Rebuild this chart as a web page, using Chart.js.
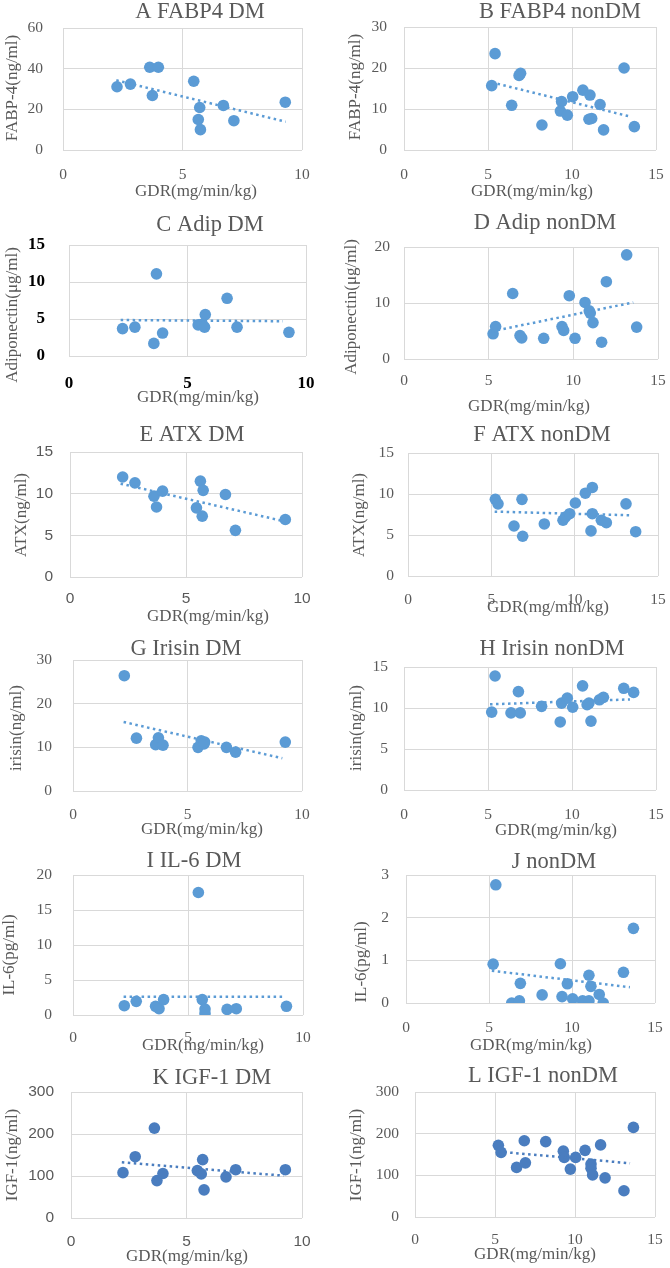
<!DOCTYPE html>
<html>
<head>
<meta charset="utf-8">
<script src="https://cdn.jsdelivr.net/npm/chart.js@4/dist/chart.umd.min.js"></script>
<style>
html, body { margin: 0; padding: 0; background: #fff; width: 670px; height: 1268px; overflow: hidden; position: relative; }
canvas { position: absolute; }
</style>
</head>
<body>
<script>
// --- data ---
// A FABP4 DM
const gdrA = [2.26, 2.82, 3.63, 3.99, 3.74, 5.47, 5.72, 5.66, 5.75, 6.71, 7.15, 9.30];
const fabp4DM = [31.1, 32.4, 40.7, 40.7, 26.8, 33.8, 20.9, 15.0, 10.0, 21.9, 14.4, 23.5];
const trendXA = [2.23, 9.32];
const trendYA = [34.3, 13.9];

// B FABP4 nonDM
const gdrB = [5.42, 5.22, 6.41, 6.85, 6.94, 8.21, 9.38, 9.31, 9.72, 10.04, 10.65, 11.07, 11.01, 11.17, 11.67, 11.88, 13.10, 13.71];
const fabp4Non = [23.5, 15.7, 10.9, 18.2, 18.7, 6.1, 11.8, 9.5, 8.5, 13.0, 14.6, 13.4, 7.5, 7.7, 11.1, 4.9, 20.0, 5.7];
const trendXB = [5.22, 13.51];
const trendYB = [16.5, 8.1];

// C Adip DM
const gdrC = [2.26, 2.78, 3.69, 3.58, 3.95, 5.45, 5.62, 5.72, 5.75, 6.67, 7.09, 9.28];
const adipDM = [3.7, 3.9, 11.1, 1.7, 3.1, 4.2, 4.3, 3.9, 5.6, 7.8, 3.9, 3.2];
const trendXC = [2.18, 9.03];
const trendYC = [4.86, 4.7];

// D Adip nonDM
const gdrD = [5.26, 5.41, 6.42, 6.85, 6.95, 8.25, 9.76, 9.33, 9.43, 10.1, 10.69, 10.94, 11.0, 11.16, 11.67, 11.95, 13.15, 13.74];
const adipNon = [4.5, 5.8, 11.7, 4.2, 3.75, 3.7, 11.3, 5.8, 5.1, 3.7, 10.1, 8.6, 8.2, 6.5, 3.0, 13.8, 18.6, 5.7];
const trendXD = [5.18, 13.54];
const trendYD = [4.94, 10.1];

// E ATX DM
const gdrE = [2.27, 2.80, 3.62, 3.73, 3.99, 5.45, 5.62, 5.74, 5.70, 6.70, 7.13, 9.28];
const atxDM = [12.0, 11.3, 9.7, 8.4, 10.3, 8.3, 11.5, 10.4, 7.3, 9.9, 5.6, 6.9];
const trendXE = [2.18, 9.21];
const trendYE = [11.2, 6.7];

// F ATX nonDM
const gdrF = [5.24, 5.40, 6.36, 6.84, 6.88, 8.18, 9.30, 9.45, 9.70, 10.04, 10.64, 11.06, 11.06, 10.98, 11.60, 11.90, 13.08, 13.66];
const atxNon = [9.35, 8.8, 6.1, 9.35, 4.85, 6.35, 6.8, 7.2, 7.6, 8.9, 10.1, 10.8, 7.6, 5.5, 6.8, 6.5, 8.8, 5.4];
const trendXF = [5.2, 13.44];
const trendYF = [7.85, 7.4];

// G Irisin DM
const gdrG = [2.24, 2.77, 3.61, 3.73, 3.93, 5.46, 5.60, 5.72, 5.75, 6.70, 7.10, 9.27];
const irisinDM = [26.4, 12.1, 10.6, 12.2, 10.5, 10.0, 11.5, 10.8, 11.2, 10.0, 8.9, 11.2];
const trendXG = [2.21, 9.14];
const trendYG = [15.8, 7.5];

// H Irisin nonDM
const gdrH = [5.42, 5.22, 6.37, 6.92, 6.81, 8.19, 9.30, 9.38, 9.72, 10.04, 10.63, 11.01, 10.90, 11.13, 11.63, 11.87, 13.08, 13.67];
const irisinNon = [13.9, 9.5, 9.4, 9.4, 12.0, 10.2, 8.3, 10.6, 11.2, 10.1, 12.7, 10.6, 10.4, 8.4, 11.0, 11.3, 12.4, 11.9];
const trendXH = [5.12, 13.45];
const trendYH = [10.45, 11.05];

// I IL-6 DM
const gdrI = [2.23, 2.75, 3.59, 3.74, 3.94, 5.45, 5.62, 5.74, 5.74, 6.70, 7.10, 9.28];
const il6DM = [1.33, 1.95, 1.24, 0.9, 2.2, 17.5, 2.2, 0.86, 0.24, 0.8, 0.9, 1.24];
const trendXI = [2.2, 9.16];
const trendYI = [2.62, 2.62];

// J nonDM (IL-6)
const gdrJ = [5.41, 5.25, 6.37, 6.83, 6.89, 8.20, 9.30, 9.40, 9.72, 10.04, 10.64, 11.02, 11.02, 11.14, 11.64, 11.88, 13.10, 13.70];
const il6Non = [2.77, 0.91, 0.0, 0.05, 0.46, 0.19, 0.92, 0.15, 0.45, 0.1, 0.05, 0.05, 0.65, 0.39, 0.2, 0.0, 0.72, 1.75];
const trendXJ = [5.17, 13.49];
const trendYJ = [0.756, 0.37];

// K IGF-1 DM
const gdrK = [2.25, 2.78, 3.61, 3.72, 3.98, 5.47, 5.64, 5.70, 5.76, 6.71, 7.13, 9.28];
const igf1DM = [108, 146, 214, 89, 106, 113, 105, 139, 67, 98, 115, 115];
const trendXK = [2.2, 9.2];
const trendYK = [132.5, 100.8];

// L IGF-1 nonDM
const gdrL = [5.21, 5.38, 6.35, 6.83, 6.90, 8.17, 9.27, 9.33, 9.71, 10.04, 10.63, 11.0, 11.0, 11.1, 11.6, 11.88, 13.06, 13.65];
const igf1Non = [172, 155, 119, 183, 130, 181, 158, 143, 115, 143, 160, 127, 117, 101, 173, 94, 63, 215];
const trendXL = [5.2, 13.44];
const trendYL = [157, 129];

const xTitle = 'GDR(mg/min/kg)';

// --- layout (page coordinates) ---
const CELL_W = 335, CELL_H = 218;
const SERIF = '"Liberation Serif", "DejaVu Serif", serif';
const SANS = '"Liberation Sans", Arial, sans-serif';
const GRAY = '#595959';
const BLUE = '#5B9BD5';
const DARK_BLUE = '#4A7DBF';

const panels = [
    { title: 'A FABP4 DM', yTitle: 'FABP-4(ng/ml)', xs: gdrA, ys: fabp4DM, tx: trendXA, ty: trendYA, xMax: 10, yMax: 60, yStep: 20,
      cell: [0, 0], plot: [63, 28, 302, 150], tPos: [200, 12], yPos: [13, 88], xPos: [196, 192], padY: 20, padX: 16 },
    { title: 'B FABP4 nonDM', yTitle: 'FABP-4(ng/ml)', xs: gdrB, ys: fabp4Non, tx: trendXB, ty: trendYB, xMax: 15, yMax: 30, yStep: 10,
      cell: [335, 0], plot: [404, 27, 656, 150], tPos: [560, 12], yPos: [356, 87], xPos: [532, 192], padY: 17, padX: 16 },
    { title: 'C Adip DM', yTitle: 'Adiponectin(μg/ml)', xs: gdrC, ys: adipDM, tx: trendXC, ty: trendYC, xMax: 10, yMax: 15, yStep: 5,
      cell: [0, 203], plot: [69, 245, 306, 356], tPos: [210, 225], yPos: [13, 315], xPos: [198, 398], padY: 24, padX: 17, bold: true },
    { title: 'D Adip nonDM', yTitle: 'Adiponectin(μg/ml)', xs: gdrD, ys: adipNon, tx: trendXD, ty: trendYD, xMax: 15, yMax: 20, yStep: 10,
      cell: [335, 203], plot: [404, 247, 658, 359], tPos: [545, 223], yPos: [352, 307], xPos: [529, 407], padY: 14, padX: 13 },
    { title: 'E ATX DM', yTitle: 'ATX(ng/ml)', xs: gdrE, ys: atxDM, tx: trendXE, ty: trendYE, xMax: 10, yMax: 15, yStep: 5,
      cell: [0, 413], plot: [70, 452, 302, 577], tPos: [192, 435], yPos: [22, 515], xPos: [208, 617], padY: 17, padX: 12, sans: true },
    { title: 'F ATX nonDM', yTitle: 'ATX(ng/ml)', xs: gdrF, ys: atxNon, tx: trendXF, ty: trendYF, xMax: 15, yMax: 15, yStep: 5,
      cell: [335, 413], plot: [408, 453, 658, 576], tPos: [542, 435], yPos: [360, 515], xPos: [548, 608], padY: 14, padX: 15 },
    { title: 'G Irisin DM', yTitle: 'irisin(ng/ml)', xs: gdrG, ys: irisinDM, tx: trendXG, ty: trendYG, xMax: 10, yMax: 30, yStep: 10,
      cell: [0, 623], plot: [73, 660, 302, 791], tPos: [186, 649], yPos: [17, 728], xPos: [202, 830], padY: 21, padX: 15 },
    { title: 'H Irisin nonDM', yTitle: 'irisin(ng/ml)', xs: gdrH, ys: irisinNon, tx: trendXH, ty: trendYH, xMax: 15, yMax: 15, yStep: 5,
      cell: [335, 623], plot: [404, 667, 656, 790], tPos: [552, 649], yPos: [357, 728], xPos: [556, 831], padY: 16, padX: 16 },
    { title: 'I IL-6 DM', yTitle: 'IL-6(pg/ml)', xs: gdrI, ys: il6DM, tx: trendXI, ty: trendYI, xMax: 10, yMax: 20, yStep: 5,
      cell: [0, 836], plot: [73, 875, 303, 1015], tPos: [194, 861], yPos: [10, 955], xPos: [203, 1046], padY: 21, padX: 14 },
    { title: 'J nonDM', yTitle: 'IL-6(pg/ml)', xs: gdrJ, ys: il6Non, tx: trendXJ, ty: trendYJ, xMax: 15, yMax: 3, yStep: 1,
      cell: [335, 836], plot: [406, 875, 655, 1003], tPos: [554, 862], yPos: [362, 962], xPos: [531, 1046], padY: 17, padX: 16 },
    { title: 'K IGF-1 DM', yTitle: 'IGF-1(ng/ml)', xs: gdrK, ys: igf1DM, tx: trendXK, ty: trendYK, xMax: 10, yMax: 300, yStep: 100,
      cell: [0, 1050], plot: [71, 1092, 302, 1218], tPos: [212, 1078], yPos: [13, 1155], xPos: [187, 1257], padY: 17, padX: 14, sans: true, dark: true },
    { title: 'L IGF-1 nonDM', yTitle: 'IGF-1(ng/ml)', xs: gdrL, ys: igf1Non, tx: trendXL, ty: trendYL, xMax: 15, yMax: 300, yStep: 100,
      cell: [335, 1050], plot: [415, 1092, 655, 1217], tPos: [543, 1076], yPos: [357, 1155], xPos: [535, 1255], padY: 16, padX: 14, dark: true }
];

// titles and axis titles drawn at fixed spots, like the Excel original
const labelPlugin = {
    id: 'panelLabels',
    afterDraw(chart) {
        const p = chart.options.plugins.panelLabels;
        const ctx = chart.ctx;
        const ox = p.cell[0], oy = p.cell[1];
        ctx.save();
        ctx.fillStyle = GRAY;
        ctx.textAlign = 'center';
        ctx.textBaseline = 'middle';
        ctx.font = '22.5px ' + SERIF;
        ctx.fillText(p.title, p.tPos[0] - ox, p.tPos[1] - oy);
        ctx.font = '17px ' + SERIF;
        ctx.fillText(xTitle, p.xPos[0] - ox, p.xPos[1] - oy);
        ctx.translate(p.yPos[0] - ox, p.yPos[1] - oy);
        ctx.rotate(-Math.PI / 2);
        ctx.fillText(p.yTitle, 0, 0);
        ctx.restore();
    }
};

function makePanel(p) {
    const canvas = document.createElement('canvas');
    canvas.width = CELL_W;
    canvas.height = CELL_H;
    canvas.style.left = p.cell[0] + 'px';
    canvas.style.top = p.cell[1] + 'px';
    document.body.appendChild(canvas);

    const [pl, pt, pr, pb] = p.plot;
    const yWidth = pl - p.cell[0];
    const xHeight = p.cell[1] + CELL_H - pb;
    const color = p.dark ? DARK_BLUE : BLUE;
    const tickFont = p.bold
        ? { family: SERIF, size: 17, weight: 'bold' }
        : { family: p.sans ? SANS : SERIF, size: 15.5 };
    const tickColor = p.bold ? '#000' : GRAY;
    const grid = { color: '#D9D9D9', lineWidth: 1, drawTicks: false };
    const border = { display: false };

    const points = p.xs.map((x, i) => ({ x: x, y: p.ys[i] }));
    const trend = p.tx.map((x, i) => ({ x: x, y: p.ty[i] }));

    new Chart(canvas.getContext('2d'), {
        type: 'scatter',
        data: {
            datasets: [
                {
                    type: 'line', data: trend, order: 0,
                    borderColor: color, borderWidth: 2.5, borderDash: [2.5, 3.5],
                    pointRadius: 0, fill: false, tension: 0
                },
                {
                    data: points, order: 1,
                    backgroundColor: color, borderColor: color, borderWidth: 0,
                    pointRadius: 5.8
                }
            ]
        },
        options: {
            responsive: false,
            animation: false,
            devicePixelRatio: 1,
            layout: { padding: { left: 0, bottom: 0, top: pt - p.cell[1], right: p.cell[0] + CELL_W - pr } },
            plugins: {
                legend: { display: false },
                tooltip: { enabled: false },
                title: { display: false },
                panelLabels: p
            },
            scales: {
                x: {
                    type: 'linear', min: 0, max: p.xMax,
                    ticks: { stepSize: 5, font: tickFont, color: tickColor, padding: p.padX, maxRotation: 0 },
                    grid: grid, border: border,
                    afterFit: s => { s.height = xHeight; s.paddingLeft = 0; s.paddingRight = 0; }
                },
                y: {
                    type: 'linear', min: 0, max: p.yMax,
                    ticks: { stepSize: p.yStep, font: tickFont, color: tickColor, padding: p.padY },
                    grid: grid, border: border,
                    afterFit: s => { s.width = yWidth; s.paddingTop = 0; s.paddingBottom = 0; }
                }
            }
        },
        plugins: [labelPlugin]
    });
}

panels.forEach(makePanel);
</script>
</body>
</html>
